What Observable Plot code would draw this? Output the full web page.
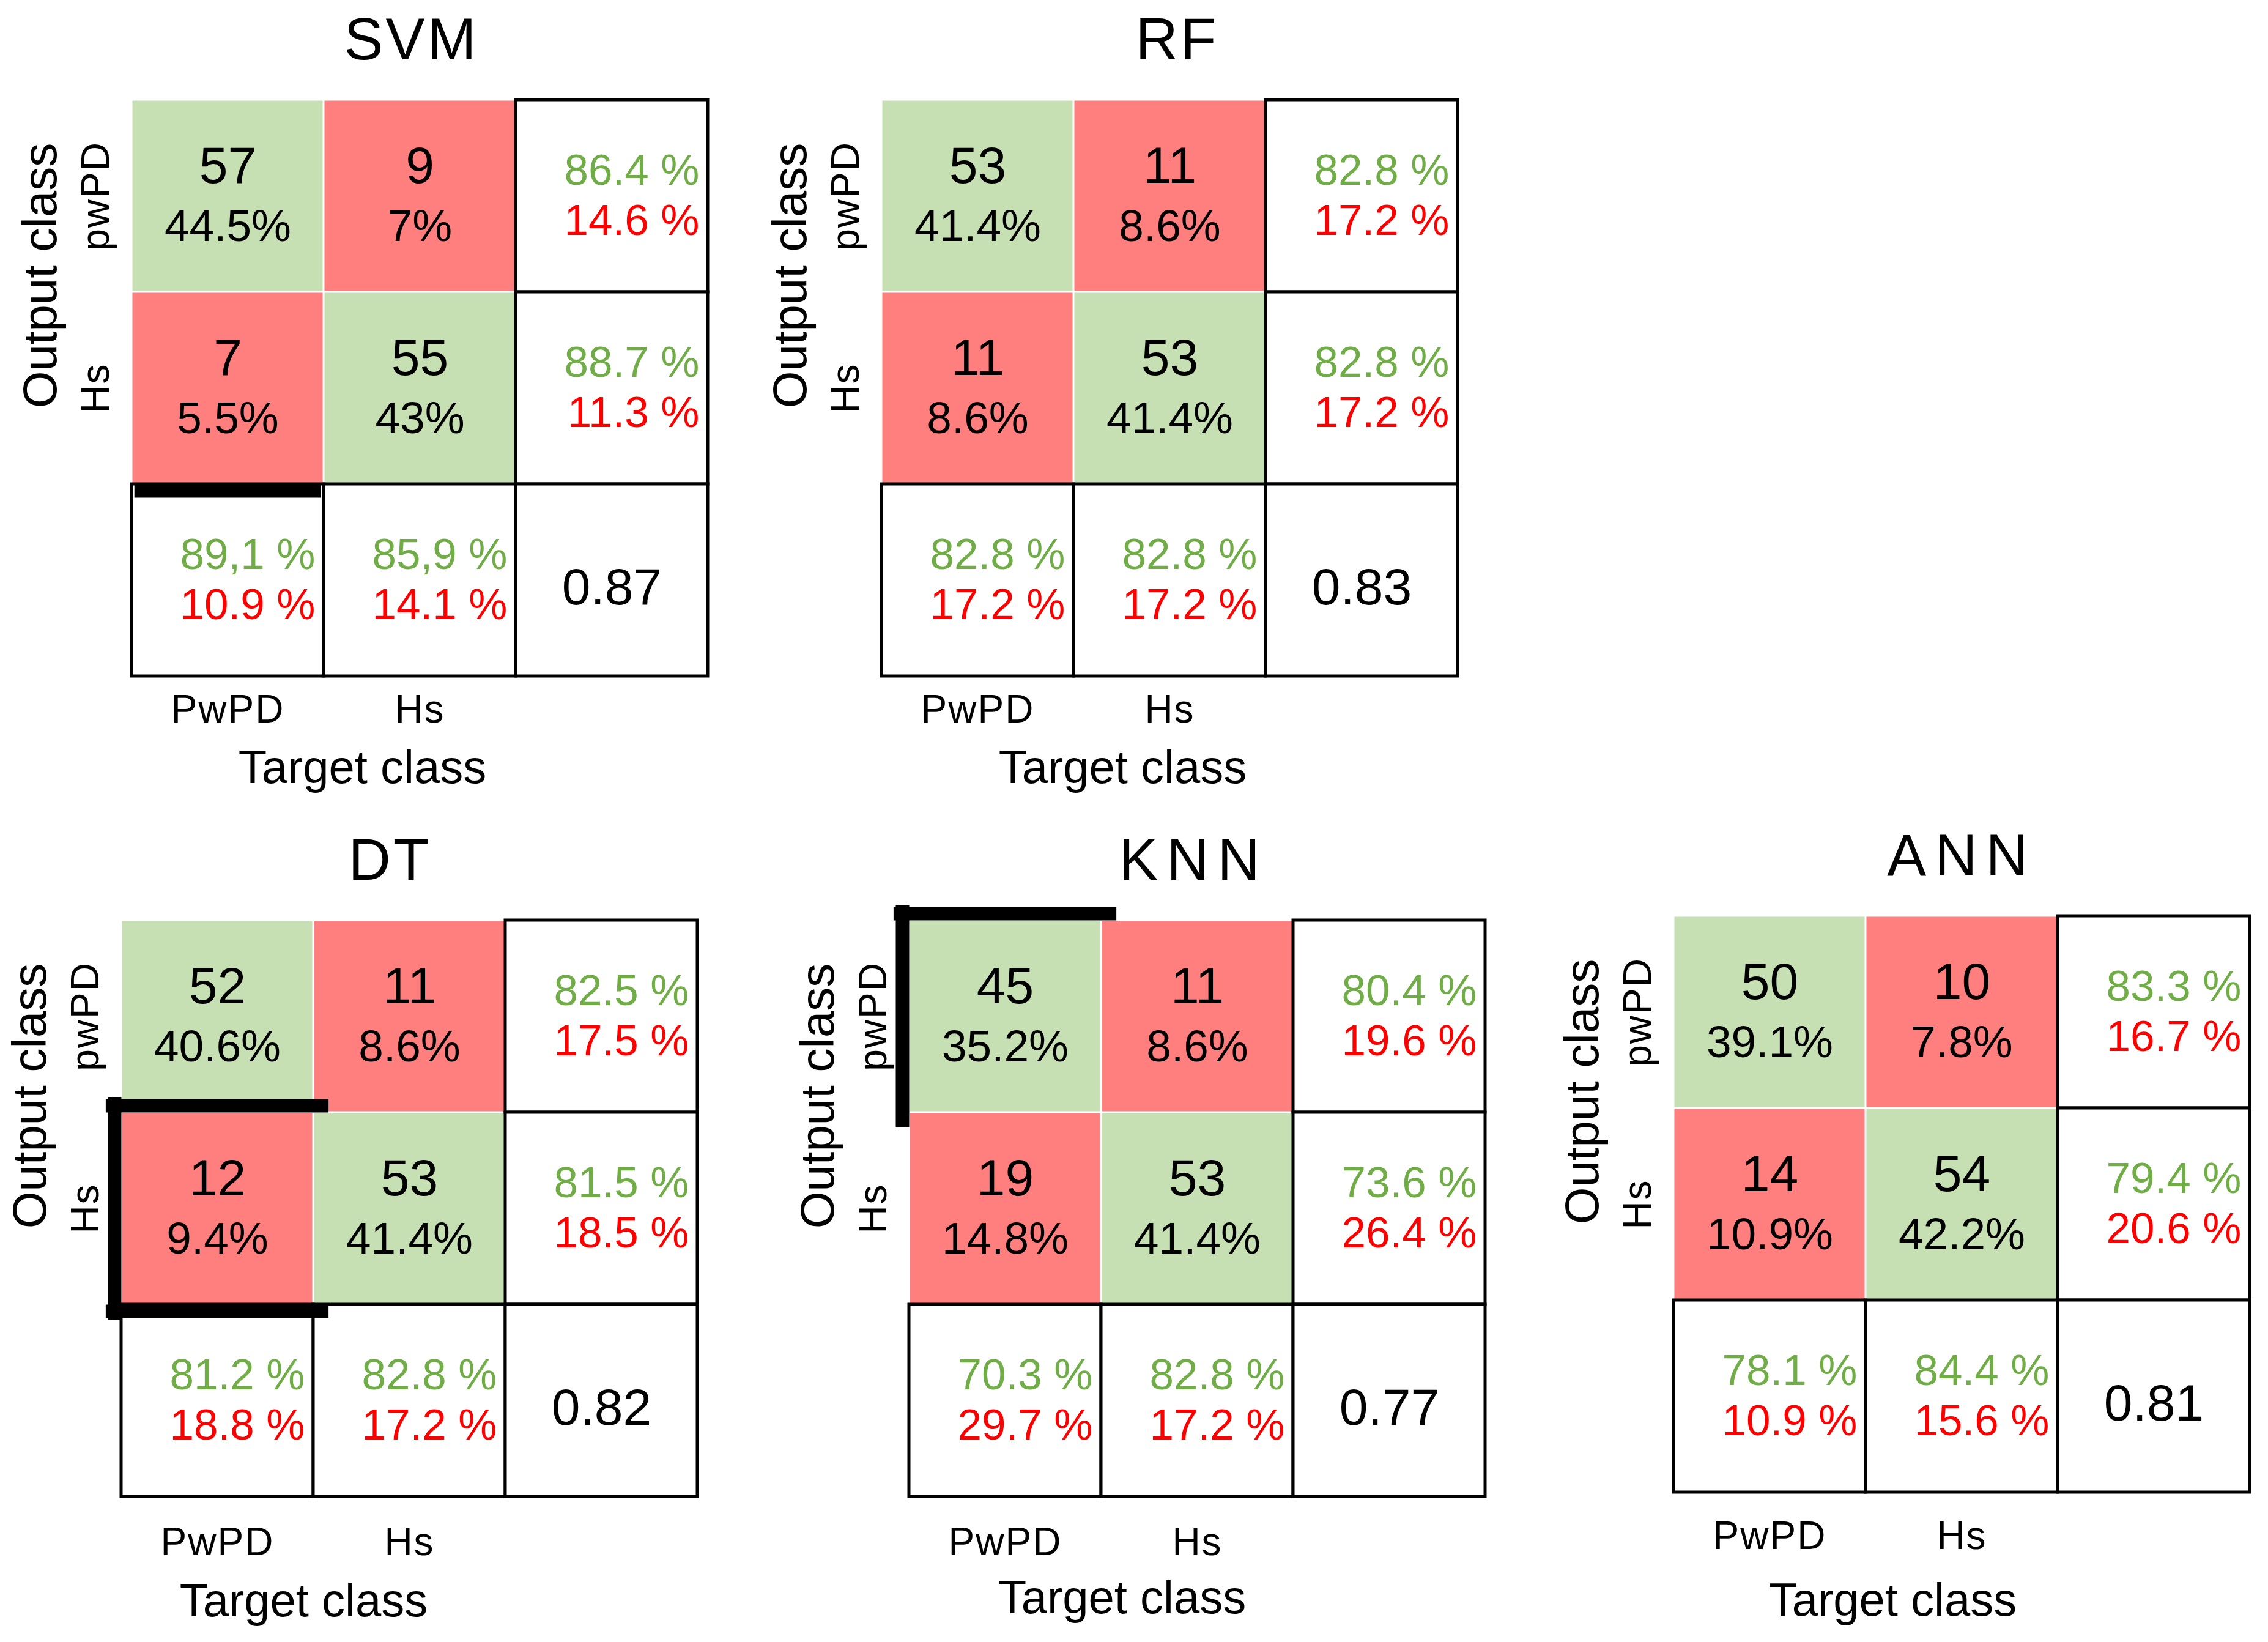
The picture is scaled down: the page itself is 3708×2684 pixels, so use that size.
<!DOCTYPE html>
<html><head><meta charset="utf-8">
<script src="https://cdn.jsdelivr.net/npm/d3@7"></script>
<script src="https://cdn.jsdelivr.net/npm/@observablehq/plot@0.6"></script>
<style>
html,body{margin:0;padding:0;background:#fff;}
#wrap{position:relative;width:3708px;height:2684px;overflow:hidden;background:#fff;}
.panel{position:absolute;}
</style></head><body><div id="wrap"></div>
<script>
// ---- data ----
const models = ["SVM", "RF", "DT", "KNN", "ANN"];
const colLabels = ["PwPD", "Hs"];
const rowLabels = ["pwPD", "Hs"];
// confusion counts, order: [r0c0, r0c1, r1c0, r1c1]
const counts = [[57, 9, 7, 55], [53, 11, 11, 53], [52, 11, 12, 53], [45, 11, 19, 53], [50, 10, 14, 54]];
const cellPct = [
  ["44.5%", "7%", "5.5%", "43%"],
  ["41.4%", "8.6%", "8.6%", "41.4%"],
  ["40.6%", "8.6%", "9.4%", "41.4%"],
  ["35.2%", "8.6%", "14.8%", "41.4%"],
  ["39.1%", "7.8%", "10.9%", "42.2%"]
];
const rowGood = [["86.4 %", "88.7 %"], ["82.8 %", "82.8 %"], ["82.5 %", "81.5 %"], ["80.4 %", "73.6 %"], ["83.3 %", "79.4 %"]];
const rowBad = [["14.6 %", "11.3 %"], ["17.2 %", "17.2 %"], ["17.5 %", "18.5 %"], ["19.6 %", "26.4 %"], ["16.7 %", "20.6 %"]];
const colGood = [["89,1 %", "85,9 %"], ["82.8 %", "82.8 %"], ["81.2 %", "82.8 %"], ["70.3 %", "82.8 %"], ["78.1 %", "84.4 %"]];
const colBad = [["10.9 %", "14.1 %"], ["17.2 %", "17.2 %"], ["18.8 %", "17.2 %"], ["29.7 %", "17.2 %"], ["10.9 %", "15.6 %"]];
const accuracy = ["0.87", "0.83", "0.82", "0.77", "0.81"];
// thick black edge marks present in the figure (which cell / which side)
const highlights = [
  {model: "SVM", row: 2, col: 0, side: "top", inside: true, ext: -0.015},
  {model: "DT", row: 1, col: 0, side: "left", inside: false, ext: 0.08},
  {model: "DT", row: 1, col: 0, side: "top", inside: false, ext: 0.08},
  {model: "DT", row: 1, col: 0, side: "bottom", inside: false, ext: 0.08},
  {model: "KNN", row: 0, col: 0, side: "top", inside: false, ext: 0.08},
  {model: "KNN", row: 0, col: 0, side: "left", inside: false, ext: 0.08}
];

// ---- layout / style ----
const CELL = 314;
const M = {top: 160, right: 30, bottom: 230, left: 200};
const layout = [
  {left: 215, top: 163, tickGap: 30, labelDx: 377, labelDy: 150, titleDx: -14},
  {left: 1441, top: 163, tickGap: 30, labelDx: 394, labelDy: 150, titleDx: 12},
  {left: 198, top: 1504, tickGap: 50, labelDx: 298, labelDy: 171, titleDx: -32},
  {left: 1486, top: 1504, tickGap: 50, labelDx: 348, labelDy: 166, titleDx: -6},
  {left: 2736, top: 1497, tickGap: 47, labelDx: 358, labelDy: 177, titleDx: 0}
];
const FONT = "'Liberation Sans', Arial, Helvetica, sans-serif";
const GREEN_BG = "#C6E0B4", RED_BG = "#FF7F7F", GREEN_TX = "#70AD47", RED_TX = "#FF0000";
const HW = 22; // highlight thickness px

const wrap = document.getElementById("wrap");

models.forEach((model, i) => {
  const L = layout[i];
  const cells = [];
  for (let r = 0; r < 2; r++) for (let c = 0; c < 2; c++) {
    cells.push({r, c, n: counts[i][r * 2 + c], p: cellPct[i][r * 2 + c], diag: r === c});
  }
  const sums = [
    ...[0, 1].map(r => ({r, c: 2, good: rowGood[i][r], bad: rowBad[i][r]})),
    ...[0, 1].map(c => ({r: 2, c, good: colGood[i][c], bad: colBad[i][c]}))
  ];
  const boxes = [...sums, {r: 2, c: 2}];
  const off = (HW / 2) / CELL;
  const hl = highlights.filter(h => h.model === model);
  const hz = hl.filter(h => h.side === "top" || h.side === "bottom").map(h => {
    const base = h.side === "top" ? h.row : h.row + 1;
    const sgn = (h.side === "top" ? -1 : 1) * (h.inside ? -1 : 1);
    return {y: base + sgn * off, x1: h.col - h.ext, x2: h.col + 1 + h.ext};
  });
  const vt = hl.filter(h => h.side === "left").map(h => ({
    x: h.col + (h.inside ? off : -off), y1: h.row - h.ext, y2: h.row + 1 + h.ext
  }));
  const mid = {textAnchor: "middle", lineAnchor: "middle", fill: "black"};

  const svg = Plot.plot({
    width: M.left + 3 * CELL + M.right,
    height: M.top + 3 * CELL + M.bottom,
    marginTop: M.top, marginRight: M.right, marginBottom: M.bottom, marginLeft: M.left,
    x: {domain: [0, 3]},
    y: {domain: [0, 3], reverse: true, axis: null},
    style: {fontFamily: FONT, background: "transparent", overflow: "visible"},
    marks: [
      Plot.rect(cells, {x1: d => d.c, x2: d => d.c + 1, y1: d => d.r, y2: d => d.r + 1,
        fill: d => d.diag ? GREEN_BG : RED_BG, inset: 1.5}),
      Plot.rect(boxes, {x1: d => d.c, x2: d => d.c + 1, y1: d => d.r, y2: d => d.r + 1,
        fill: "white", stroke: "black", strokeWidth: 5}),
      Plot.text(cells, {x: d => d.c + 0.5, y: d => d.r + 0.345, text: d => String(d.n), fontSize: 84, fill: "black"}),
      Plot.text(cells, {x: d => d.c + 0.5, y: d => d.r + 0.66, text: d => d.p, fontSize: 73, fill: "black"}),
      Plot.text(sums, {x: d => d.c + 1, y: d => d.r + 0.37, text: d => d.good, textAnchor: "end", dx: -14, fontSize: 71, fill: GREEN_TX}),
      Plot.text(sums, {x: d => d.c + 1, y: d => d.r + 0.63, text: d => d.bad, textAnchor: "end", dx: -14, fontSize: 71, fill: RED_TX}),
      Plot.text([accuracy[i]], {x: () => 2.5, y: () => 2.54, text: d => d, fontSize: 84, fill: "black"}),
      Plot.ruleY(hz, {y: "y", x1: "x1", x2: "x2", stroke: "black", strokeWidth: HW}),
      Plot.ruleX(vt, {x: "x", y1: "y1", y2: "y2", stroke: "black", strokeWidth: HW}),
      Plot.axisX([0.5, 1.5], {tickFormat: d => colLabels[Math.floor(d)], tickSize: 0, tickPadding: L.tickGap,
        fontSize: 64, label: null, anchor: "bottom"}),
      Plot.text(rowLabels, {x: () => 0, y: (d, j) => j + 0.5, text: d => d, rotate: -90, dx: -58, fontSize: 64, ...mid}),
      Plot.text(["Output class"], {frameAnchor: "top-left", dx: -148, dy: 287, rotate: -90, fontSize: 78, ...mid}),
      Plot.text(["Target class"], {frameAnchor: "bottom-left", dx: L.labelDx, dy: L.labelDy, fontSize: 76, ...mid}),
      Plot.text([model], {frameAnchor: "top", dx: L.titleDx, dy: -97, fontSize: 96, ...mid})
    ]
  });
  // letter spacing like the original export
  d3.select(svg).selectAll("text").each(function () {
    const t = this.textContent;
    if (colLabels.includes(t) || rowLabels.includes(t)) this.setAttribute("letter-spacing", "2");
    if (t === model) this.setAttribute("letter-spacing", (model === "KNN" || model === "ANN") ? "14" : "4");
  });
  const div = document.createElement("div");
  div.className = "panel";
  div.style.left = (L.left - M.left) + "px";
  div.style.top = (L.top - M.top) + "px";
  div.appendChild(svg);
  wrap.appendChild(div);
});
</script>
</body></html>
